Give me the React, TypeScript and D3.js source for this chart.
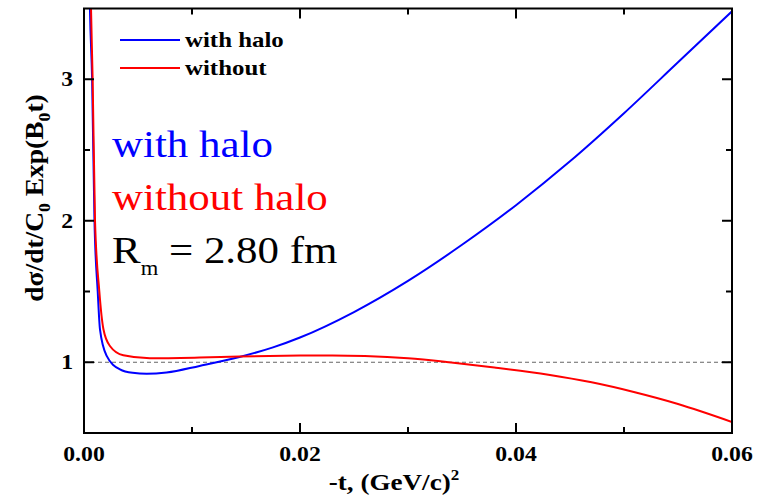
import React from "react";
import * as d3 from "d3";

// curve with halo (blue)
const tHalo = [0.0003, 0.00055, 0.00075, 0.00097, 0.00127, 0.00148, 0.0021, 0.00333, 0.0045, 0.0058, 0.00765, 0.0107, 0.0144, 0.0175, 0.02, 0.025, 0.03, 0.035, 0.04, 0.045, 0.05, 0.055, 0.06];
const yHalo = [5.0, 3.5, 3.0, 2.0, 1.5, 1.233, 1.045, 0.95, 0.925, 0.918, 0.927, 0.974, 1.037, 1.105, 1.175, 1.355, 1.575, 1.83, 2.11, 2.42, 2.76, 3.12, 3.48];

// curve without halo (red)
const tNoHalo = [0.0004, 0.00065, 0.0008, 0.00102, 0.00142, 0.0018, 0.0024, 0.00364, 0.0061, 0.0107, 0.0144, 0.02, 0.023, 0.026, 0.03, 0.034, 0.038, 0.043, 0.047, 0.051, 0.055, 0.06];
const yNoHalo = [5.0, 3.5, 3.0, 2.0, 1.5, 1.233, 1.115, 1.049, 1.028, 1.033, 1.04, 1.047, 1.048, 1.044, 1.028, 0.998, 0.963, 0.912, 0.858, 0.788, 0.705, 0.578];

const xTicks = [0, 0.02, 0.04, 0.06];
const xMinor = [0.01, 0.03, 0.05];
const yTicks = [1, 2, 3];
const yMinor = [1.5, 2.5];
const legendLabels = ["with halo", "without"];
const noteLabels = ["with halo", "without halo"];
const colors = ["#0000ff", "#ff0000"];

const W = 766, H = 501;
const left = 84, right = 732, top = 8.5, bottom = 433;
const SX = 1.13; // the original is a bit wide
const serif = "'Liberation Serif', 'Times New Roman', serif";

function Txt(props: any) {
  const { x, y, children, ...rest } = props;
  return (
    <text transform={`translate(${x},${y}) scale(${SX},1)`} fontFamily={serif} {...rest}>
      {children}
    </text>
  );
}

export default function App() {
  const xScale = d3.scaleLinear().domain([0, 0.06]).range([left, right]);
  const yScale = d3.scaleLinear().domain([0.5, 3.5]).range([bottom, top]);

  const line = d3
    .line<[number, number]>()
    .x((d) => xScale(d[0]))
    .y((d) => yScale(d[1]))
    .curve(d3.curveMonotoneX);

  const series = [
    tHalo.map((t, i) => [t, yHalo[i]] as [number, number]),
    tNoHalo.map((t, i) => [t, yNoHalo[i]] as [number, number]),
  ];

  const major = 10, minor = 6;

  return (
    <svg width={W} height={H} style={{ position: "absolute", left: 0, top: 0, background: "#fff" }}>
      <defs>
        <clipPath id="plot">
          <rect x={left} y={top} width={right - left} height={bottom - top} />
        </clipPath>
      </defs>

      {/* reference line at 1 */}
      <line x1={left} x2={right} y1={yScale(1)} y2={yScale(1)} stroke="#666" strokeWidth={1} strokeDasharray="4,3" />

      <g clipPath="url(#plot)">
        {series.map((s, i) => (
          <path key={i} d={line(s) || ""} fill="none" stroke={colors[i]} strokeWidth={2} />
        ))}
      </g>

      {/* frame */}
      <rect x={left} y={top} width={right - left} height={bottom - top} fill="none" stroke="#000" strokeWidth={2} />

      {/* ticks */}
      {xTicks.concat(xMinor).map((t) => {
        const len = xTicks.includes(t) ? major : minor;
        const x = xScale(t);
        return (
          <g key={"x" + t}>
            <line x1={x} x2={x} y1={bottom} y2={bottom - len} stroke="#000" strokeWidth={2} />
            <line x1={x} x2={x} y1={top} y2={top + len} stroke="#000" strokeWidth={2} />
          </g>
        );
      })}
      {yTicks.concat(yMinor).map((v) => {
        const len = yTicks.includes(v) ? major : minor;
        const y = yScale(v);
        return (
          <g key={"y" + v}>
            <line x1={left} x2={left + len} y1={y} y2={y} stroke="#000" strokeWidth={2} />
            <line x1={right} x2={right - len} y1={y} y2={y} stroke="#000" strokeWidth={2} />
          </g>
        );
      })}

      {/* tick labels */}
      {xTicks.map((t) => (
        <Txt key={"xl" + t} x={xScale(t)} y={461} textAnchor="middle" fontSize={21} fontWeight="bold">
          {t.toFixed(2)}
        </Txt>
      ))}
      {yTicks.map((v) => (
        <Txt key={"yl" + v} x={73} y={yScale(v) + 7} textAnchor="end" fontSize={21} fontWeight="bold">
          {v}
        </Txt>
      ))}

      {/* axis titles */}
      <Txt x={394} y={490} textAnchor="middle" fontSize={24} fontWeight="bold">
        -t, (GeV/c)<tspan fontSize={15} dy={-10}>2</tspan>
      </Txt>
      <text
        transform={`translate(43,198) rotate(-90) scale(1.1,1)`}
        fontFamily={serif}
        fontSize={25}
        fontWeight="bold"
        textAnchor="middle"
      >
        dσ/dt/C<tspan fontSize={16} dy={7}>0</tspan>
        <tspan dy={-7}> Exp(B</tspan>
        <tspan fontSize={16} dy={7}>0</tspan>
        <tspan dy={-7}>t)</tspan>
      </text>

      {/* legend */}
      {legendLabels.map((lab, i) => (
        <g key={lab}>
          <line x1={120} x2={180} y1={40 + i * 28} y2={40 + i * 28} stroke={colors[i]} strokeWidth={2} />
          <Txt x={185} y={47 + i * 28} fontSize={22} fontWeight="bold">
            {lab}
          </Txt>
        </g>
      ))}

      {/* annotations */}
      {noteLabels.map((lab, i) => (
        <Txt key={"n" + lab} x={112} y={157 + i * 53} fontSize={38} fill={colors[i]}>
          {lab}
        </Txt>
      ))}
      <Txt x={112} y={263} fontSize={38} fill="#000">
        R<tspan fontSize={20} dy={12}>m</tspan>
        <tspan dy={-12}> = 2.80 fm</tspan>
      </Txt>
    </svg>
  );
}
